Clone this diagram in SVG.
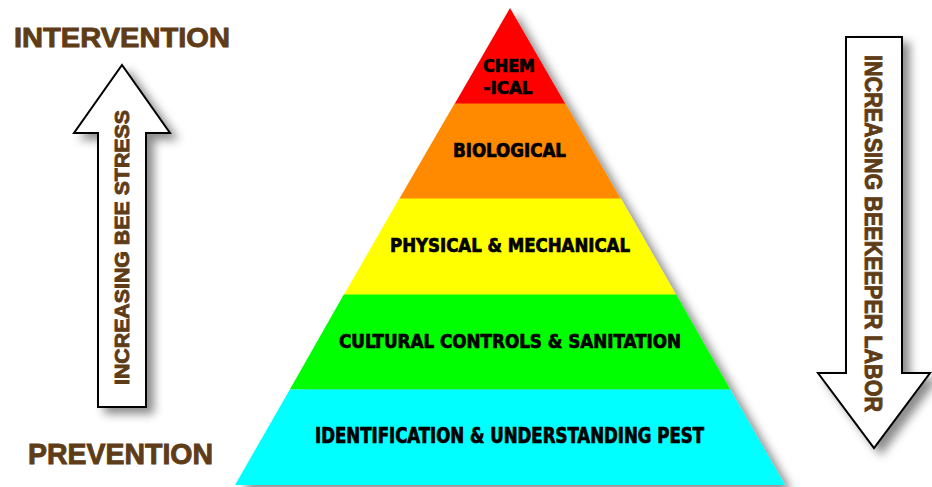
<svg xmlns="http://www.w3.org/2000/svg" width="932" height="487" viewBox="0 0 932 487">
<defs>
<filter id="sh" x="-20%" y="-20%" width="150%" height="150%">
<feDropShadow dx="7" dy="6" stdDeviation="5" flood-color="#000" flood-opacity="0.45"/>
</filter>
<style>
.lvl{stroke:none}
.pt{font-family:"DejaVu Sans Condensed","Liberation Sans",sans-serif;font-weight:bold;fill:#000;stroke:#000;stroke-width:0.7;text-anchor:middle}
.br{font-family:"Liberation Sans",Arial,sans-serif;font-weight:bold;fill:#5e3c17;stroke:#5e3c17;stroke-width:0.9}
.arrow{fill:#fff;stroke:#000;stroke-width:2;filter:url(#sh)}
</style>
</defs>
<rect width="932" height="487" fill="#fff"/>

<g id="labels">
<text class="br" x="14" y="47" font-size="28" textLength="216" lengthAdjust="spacingAndGlyphs">INTERVENTION</text>
<text class="br" x="28" y="464" font-size="29" textLength="185" lengthAdjust="spacingAndGlyphs">PREVENTION</text>
</g>

<g id="arrow-bee-stress">
<polygon class="arrow" points="98,407 98,133 74,133 122,65 170,133 146,133 146,407"/>
<text class="br" transform="translate(128.5,247.5) rotate(-90)" x="0" y="0" font-size="21" text-anchor="middle" textLength="275" lengthAdjust="spacingAndGlyphs">INCREASING BEE STRESS</text>
</g>

<g id="arrow-beekeeper-labor">
<polygon class="arrow" points="846,37 902,37 902,373 930,373 874,448 818,373 846,373"/>
<text class="br" transform="translate(865,233.5) rotate(90)" x="0" y="0" font-size="23" text-anchor="middle" textLength="357" lengthAdjust="spacingAndGlyphs">INCREASING BEEKEEPER LABOR</text>
</g>

<g id="pyramid" filter="url(#sh)">
<g id="level-chemical">
<polygon class="lvl" fill="#ff0000" points="510,8 565.4,104 454.6,104"/>
</g>
<g id="level-biological">
<polygon class="lvl" fill="#ff8a00" points="454.6,103.5 565.4,103.5 620.8,199 399.2,199"/>
</g>
<g id="level-physical">
<polygon class="lvl" fill="#ffff00" points="399.2,198.5 620.8,198.5 676.2,295 343.8,295"/>
</g>
<g id="level-cultural">
<polygon class="lvl" fill="#00ff00" points="343.8,294.5 676.2,294.5 730.2,389.5 289.8,389.5"/>
</g>
<g id="level-identification">
<polygon class="lvl" fill="#00ffff" points="289.8,389.5 730.2,389.5 785,485 235,485"/>
</g>
</g>

<g id="pyramid-text">
<text class="pt" x="509" y="72" font-size="18.5" textLength="52" lengthAdjust="spacingAndGlyphs">CHEM</text>
<text class="pt" x="508" y="94" font-size="18.5" textLength="49" lengthAdjust="spacingAndGlyphs">-ICAL</text>
<text class="pt" x="509.5" y="157" font-size="19.5" textLength="113" lengthAdjust="spacingAndGlyphs">BIOLOGICAL</text>
<text class="pt" x="510" y="252" font-size="19.5" textLength="240" lengthAdjust="spacingAndGlyphs">PHYSICAL &amp; MECHANICAL</text>
<text class="pt" x="510" y="348" font-size="19.5" textLength="342" lengthAdjust="spacingAndGlyphs">CULTURAL CONTROLS &amp; SANITATION</text>
<text class="pt" x="509.5" y="443" font-size="20.5" textLength="389" lengthAdjust="spacingAndGlyphs">IDENTIFICATION &amp; UNDERSTANDING PEST</text>
</g>
</svg>
